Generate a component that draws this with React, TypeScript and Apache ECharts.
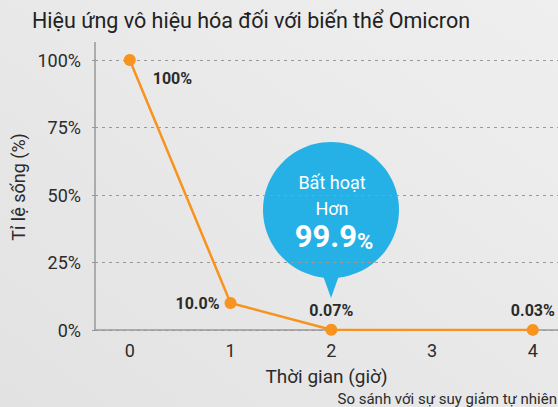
import React, { useEffect, useRef } from "react";
import * as echarts from "echarts";

const titleText = "Hiệu ứng vô hiệu hóa đối với biến thể Omicron";
const yAxisName = "Tỉ lệ sống (%)";
const xAxisName = "Thời gian (giờ)";
const footnote = "So sánh với sự suy giảm tự nhiên";
const hours = [0, 1, 2, 4];
const survival = [100, 10, 0.07, 0.03];
const pointLabels = ["100%", "10.0%", "0.07%", "0.03%"];
const xTicks = [0, 1, 2, 3, 4];
const bubbleLine1 = "Bất hoạt";
const bubbleLine2 = "Hơn";
const bubbleValue = "99.9";

const ORANGE = "#F7931E";
const BLUE = "#25B1E6";
const TEXT = "#2b2b2b";
const FONT = "Roboto, 'Noto Sans', sans-serif";

export default function App() {
  const ref = useRef<HTMLDivElement>(null);
  useEffect(() => {
    if (!ref.current) return;
    const chart = echarts.init(ref.current, undefined, { renderer: "svg" });
    const labelCfg = [
      { position: "right", offset: [12, 18] },
      { position: "left", offset: [0, 0] },
      { position: "top", offset: [0, 0] },
      { position: "top", offset: [0, 0] },
    ];
    const data = hours.map((h, i) => ({
      value: [h, survival[i]],
      label: {
        show: true,
        formatter: pointLabels[i],
        position: labelCfg[i].position,
        offset: labelCfg[i].offset,
      },
    }));
    chart.setOption({
      animation: false,
      backgroundColor: {
        type: "linear",
        x: 0,
        y: 1,
        x2: 1,
        y2: 0,
        colorStops: [
          { offset: 0, color: "#e2e2e2" },
          { offset: 1, color: "#efefef" },
        ],
      },
      textStyle: { fontFamily: FONT },
      grid: { left: 95, right: 0, top: 60, bottom: 77, containLabel: false },
      xAxis: {
        type: "value",
        min: -0.345,
        max: 4.25,
        axisLine: { show: true, onZero: false, lineStyle: { color: "#999", width: 1.5 } },
        axisTick: { show: false },
        splitLine: { show: false },
        axisLabel: {
          customValues: xTicks,
          color: TEXT,
          fontSize: 18,
          margin: 11,
          fontFamily: FONT,
        },
        name: xAxisName,
        nameLocation: "middle",
        nameGap: 37,
        nameTextStyle: { color: TEXT, fontSize: 19, fontFamily: FONT },
      },
      yAxis: {
        type: "value",
        min: 0,
        max: 100,
        interval: 25,
        axisLine: { show: true, onZero: false, lineStyle: { color: "#999", width: 1.5 } },
        axisTick: {
          show: true,
          length: 6,
          lineStyle: { color: "#999", type: [3, 4] },
        },
        splitLine: { show: true, lineStyle: { color: "#999", type: [3, 4], width: 1 } },
        axisLabel: {
          formatter: "{value}%",
          color: TEXT,
          fontSize: 18,
          margin: 14,
          fontFamily: FONT,
        },
      },
      series: [
        {
          type: "line",
          data,
          symbol: "circle",
          symbolSize: 12,
          itemStyle: { color: ORANGE },
          lineStyle: { color: ORANGE, width: 2.5 },
          label: {
            color: TEXT,
            fontSize: 16,
            fontWeight: "bold",
            fontFamily: FONT,
          },
          z: 3,
        },
      ],
      graphic: [
        {
          type: "text",
          left: 32,
          top: 9,
          style: { text: titleText, fill: "#222", fontSize: 21.5, fontFamily: FONT },
        },
        {
          type: "line",
          shape: { x1: 95, y1: 42, x2: 95, y2: 60 },
          style: { stroke: "#999", lineWidth: 1.5 },
        },
        {
          type: "text",
          x: 18,
          y: 187,
          rotation: Math.PI / 2,
          style: {
            text: yAxisName,
            fill: TEXT,
            fontSize: 18,
            fontFamily: FONT,
            align: "center",
            verticalAlign: "middle",
          },
        },
        {
          type: "text",
          right: 1,
          bottom: 1,
          style: { text: footnote, fill: TEXT, fontSize: 15, fontFamily: FONT },
        },
        {
          type: "group",
          z: 10,
          children: [
            {
              type: "circle",
              shape: { cx: 331, cy: 210, r: 68 },
              style: { fill: BLUE },
            },
            {
              type: "polygon",
              shape: { points: [[321, 270], [341, 270], [331, 298]] },
              style: { fill: BLUE },
            },
            {
              type: "text",
              x: 332,
              y: 182,
              style: {
                text: bubbleLine1,
                fill: "#fff",
                fontSize: 18,
                fontFamily: FONT,
                align: "center",
                verticalAlign: "middle",
              },
            },
            {
              type: "text",
              x: 332,
              y: 208,
              style: {
                text: bubbleLine2,
                fill: "#fff",
                fontSize: 18,
                fontFamily: FONT,
                align: "center",
                verticalAlign: "middle",
              },
            },
            {
              type: "text",
              x: 334,
              y: 237,
              style: {
                text: "{a|" + bubbleValue + "}{b|%}",
                align: "center",
                verticalAlign: "middle",
                rich: {
                  a: { fill: "#fff", fontSize: 31, fontWeight: "bold", fontFamily: FONT, verticalAlign: "bottom", lineHeight: 30 },
                  b: { fill: "#fff", fontSize: 22, fontWeight: "bold", fontFamily: FONT, verticalAlign: "bottom", lineHeight: 30 },
                },
              },
            },
          ],
        },
      ],
    });
    return () => chart.dispose();
  }, []);
  return (
    <div
      ref={ref}
      style={{ position: "absolute", left: 0, top: 0, width: 558, height: 407 }}
    />
  );
}
